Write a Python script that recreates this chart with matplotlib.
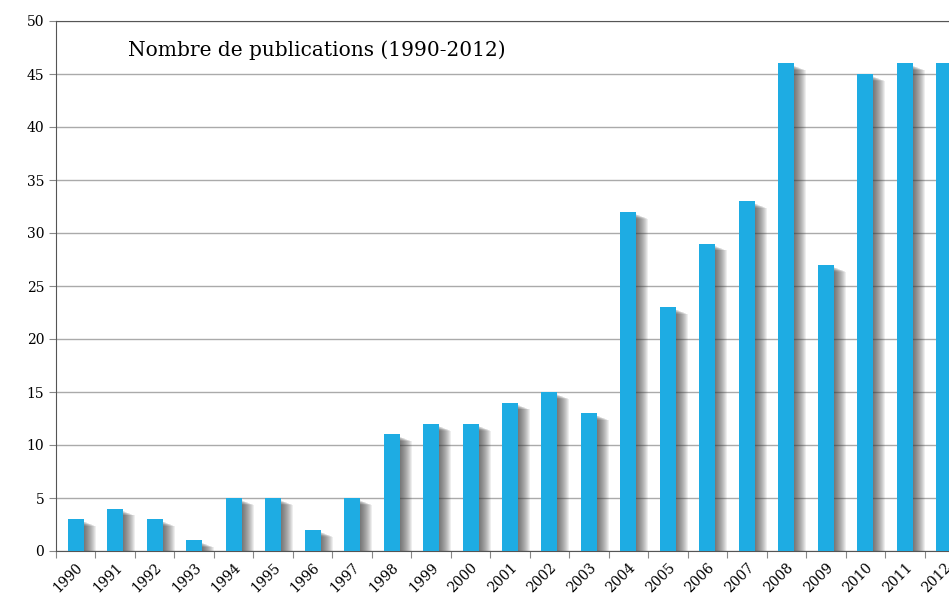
import matplotlib
matplotlib.use("Agg")
import matplotlib.pyplot as plt
import numpy as np

years = [str(y) for y in range(1990, 2013)]
counts = [3, 4, 3, 1, 5, 5, 2, 5, 11, 12, 12, 14, 15, 13, 32, 23, 29, 33, 46, 27, 45, 46, 46]
title = "Nombre de publications (1990-2012)"

W, H = 949, 594
fig = plt.figure(figsize=(W / 100, H / 100), dpi=100)
left, right, top, bottom = 56, 964, 21, 551
ax = fig.add_axes([left / W, 1 - bottom / H, (right - left) / W, (bottom - top) / H])

x = np.arange(len(years))
px = 1.0 / 39.5  # data units per pixel in x
py = 50 / 530.0
bw = 16 * px
c = np.array(counts, dtype=float)

# soft drop shadow
for i in range(0, 13):
    off = i * px
    ax.bar(x + off, np.maximum(c - (2 + 0.4 * i) * py, 0), width=bw, color="#3a3a3a",
           alpha=0.085, zorder=2, linewidth=0)
ax.bar(x, counts, width=bw, color="#1EACE3", zorder=3, linewidth=0)

ax.set_xlim(-0.5, len(years) - 0.5)
ax.set_ylim(0, 50)
ax.set_yticks(range(0, 51, 5))
ax.yaxis.grid(True, color="#AAAAAA", linewidth=1)
ax.set_axisbelow(True)
ax.set_xticks(np.arange(-0.5, len(years) - 0.5, 1.0))
ax.set_xticklabels([])
ax.set_xticks(x, minor=True)
ax.set_xticklabels(years, minor=True, rotation=45, ha="right", rotation_mode="anchor",
                   fontsize=10, family="DejaVu Serif")
ax.tick_params(axis="x", which="minor", length=0, pad=7)
ax.tick_params(axis="x", which="major", length=5, color="#888888")
ax.tick_params(axis="y", length=5, color="#888888", labelsize=10)
for lab in ax.get_yticklabels():
    lab.set_family("DejaVu Serif")
for s in ["left", "bottom"]:
    ax.spines[s].set_color("#555555")
ax.spines["top"].set_color("#555555")
ax.spines["right"].set_visible(False)

fig.text(128 / W, 1 - 50 / H, title, fontsize=14.5, family="DejaVu Serif", va="center", ha="left")

fig.savefig("out.png", dpi=100)
